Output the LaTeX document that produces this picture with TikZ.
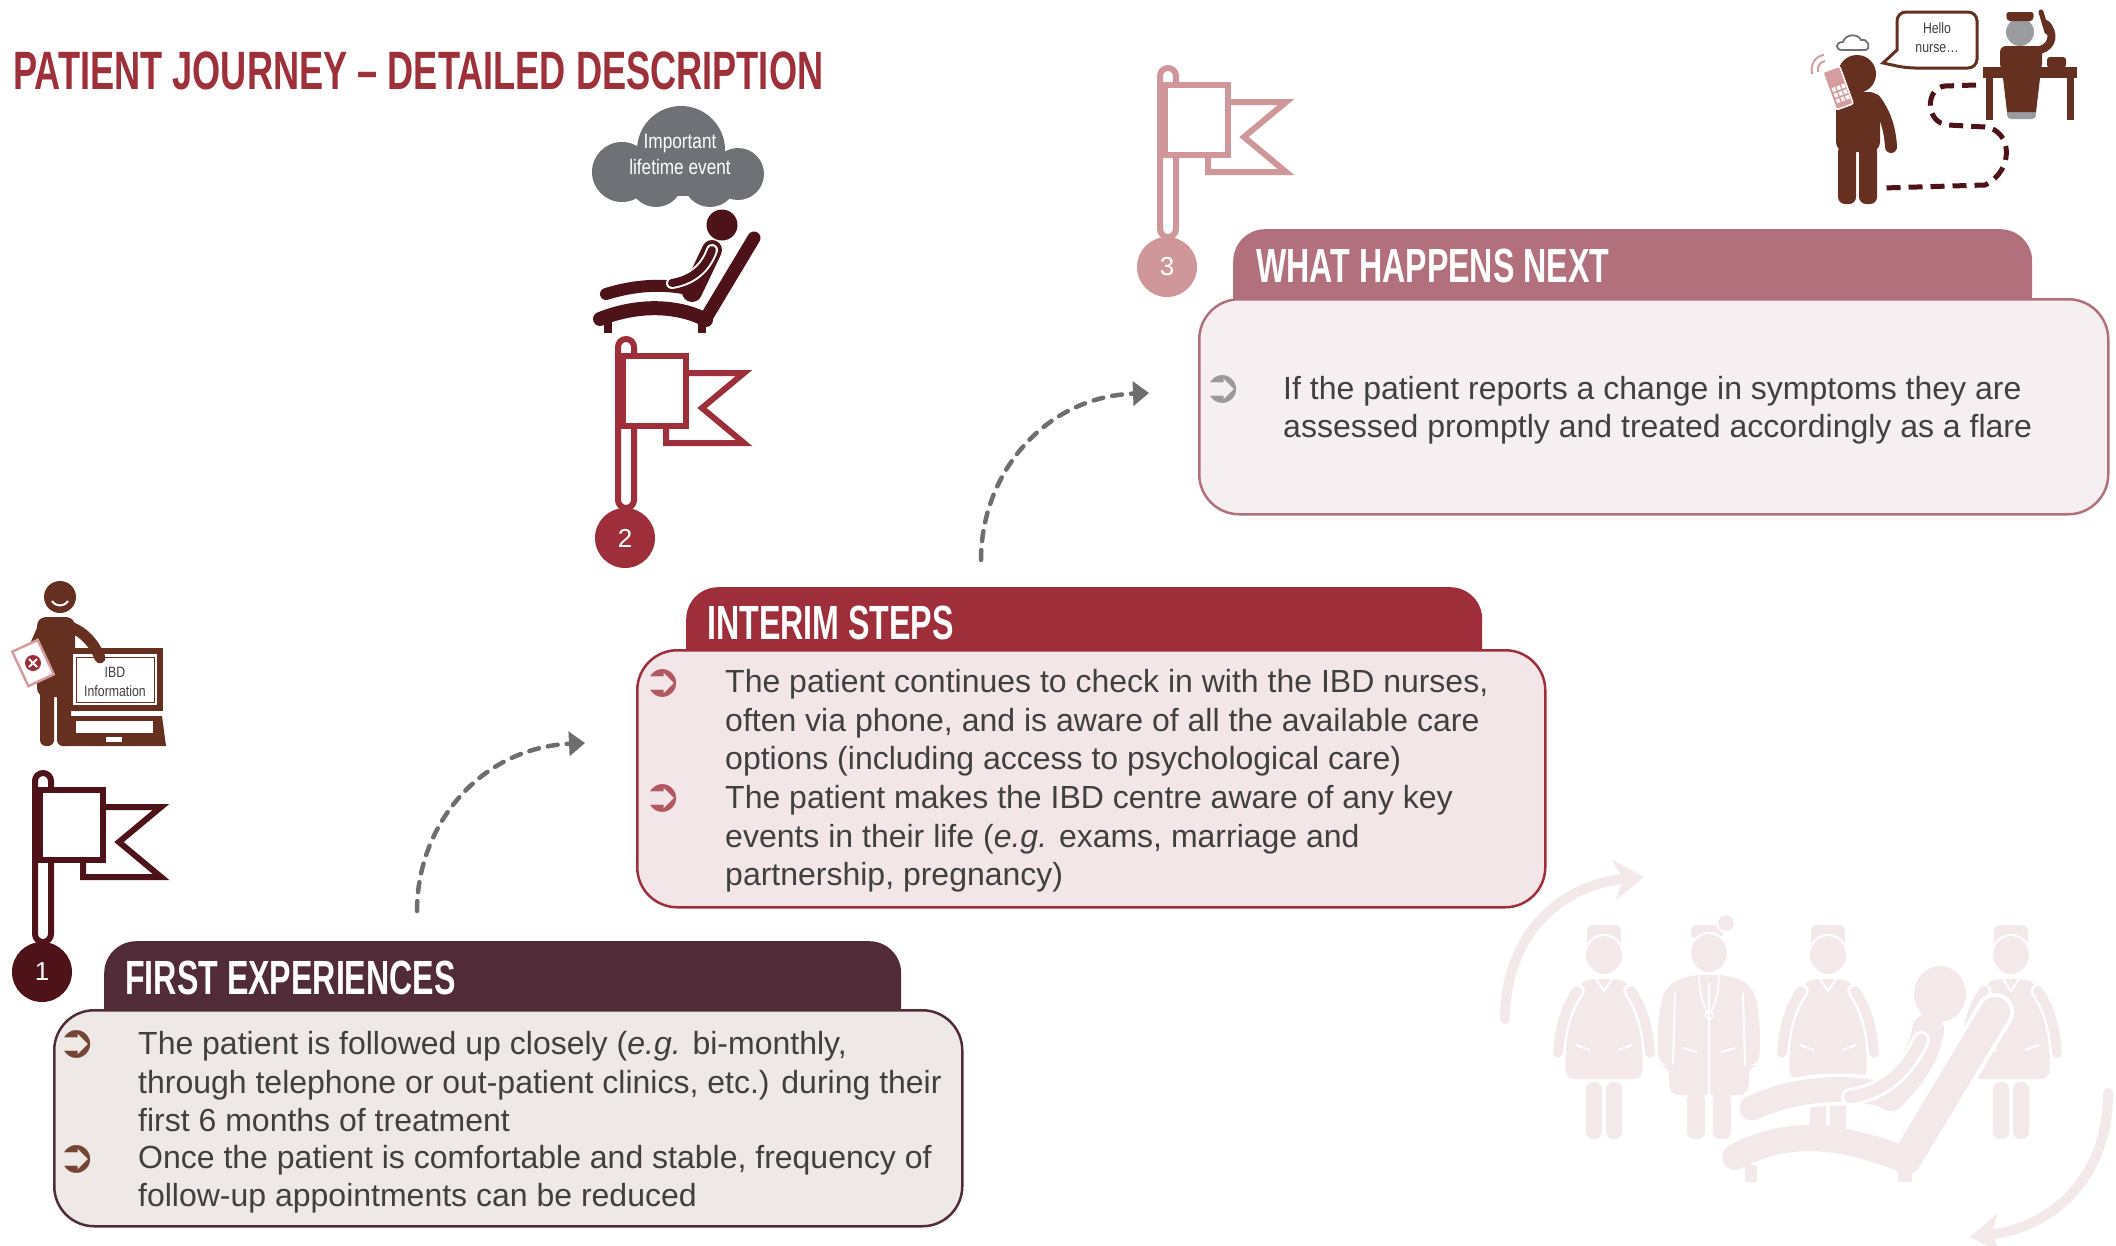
\documentclass[tikz,border=0pt]{standalone}
\usepackage{fontspec}
\setmainfont{Liberation Sans}
\newfontfamily\headfont[FakeStretch=0.67]{Liberation Sans}
\newfontfamily\narrowfont[FakeStretch=0.82]{Liberation Sans}
\newfontfamily\symfont{DejaVu Sans}
\usetikzlibrary{arrows.meta}

\definecolor{titlered}{HTML}{9E3039}
\definecolor{plum}{HTML}{522B39}
\definecolor{plumbg}{HTML}{EEE8E7}
\definecolor{wine}{HTML}{9E2F3A}
\definecolor{winebg}{HTML}{F3E6E9}
\definecolor{rose}{HTML}{B1707C}
\definecolor{rosebg}{HTML}{F5EFF1}
\definecolor{maroon}{HTML}{4E1319}
\definecolor{blush}{HTML}{D0979B}
\definecolor{umber}{HTML}{65301F}
\definecolor{ink}{HTML}{404040}
\definecolor{hopgrey}{HTML}{6E6E6E}
\definecolor{cloudgrey}{HTML}{707176}
\definecolor{ghost}{HTML}{F3E8EA}
\definecolor{phonepink}{HTML}{D69C9F}

\begin{document}
\begin{tikzpicture}
  [
    x=1pt, y=-1pt,
    tab/.style =
      {rounded corners=32pt, anchor=north west, minimum height=120pt, inner sep=0pt},
    card/.style =
      {draw, line width=2.5pt, rounded corners=40pt, anchor=north west, inner sep=0pt},
    heading/.style =
      {anchor=west, inner sep=0pt, text=white, font=\headfont\bfseries\fontsize{48}{50}\selectfont},
    body/.style =
      {anchor=west, inner sep=0pt, align=left, text=ink, font=\fontsize{32}{38.5}\selectfont},
    bullet/.style =
      {inner sep=0pt, font=\symfont\bfseries\fontsize{46}{46}\selectfont},
    num/.style =
      {circle, minimum size=60pt, inner sep=0pt, text=white, font=\fontsize{26}{26}\selectfont},
    hop/.style =
      {hopgrey, line width=4.5pt, dash pattern=on 10pt off 9pt, line cap=round,
       -{Triangle[length=16pt, width=24pt]}},
    turn/.style =
      {ghost, line width=10pt, line cap=round, -{Stealth[length=30pt, width=40pt, inset=9pt]}},
    flag/.pic = {
      \draw[line width=6pt, fill=white, rounded corners=8pt] (-7,-30) rectangle (9,-199);
      \draw[line width=6pt, fill=white] (61,-165) -- (119,-165) -- (77,-130) -- (119,-95)
        -- (41,-95) -- (41,-112);
      \draw[line width=6pt, fill=white] (-2,-182) rectangle (61,-112);
    },
    nurse/.pic = {
      \fill[rounded corners=6pt] (-17,-30) rectangle (17,-6);
      \filldraw[draw=white, line width=2pt] (0,0) ellipse [x radius=19, y radius=20];
      \fill[rounded corners=8pt] (-14,24) -- (14,24) -- (24,28) .. controls (36,45) and (40,80) .. (38,124)
        -- (-38,124) .. controls (-40,80) and (-36,45) .. (-24,28) -- cycle;
      \draw[white, line width=15pt, line cap=round] (-27,36) .. controls (-40,55) and (-44,75) .. (-46,98);
      \draw[white, line width=15pt, line cap=round] (27,36) .. controls (40,55) and (44,75) .. (46,98);
      \draw[line width=10pt, line cap=round] (-27,36) .. controls (-40,55) and (-44,75) .. (-46,98);
      \draw[line width=10pt, line cap=round] (27,36) .. controls (40,55) and (44,75) .. (46,98);
      \draw[white, line width=2pt] (-28,90) -- (-14,95) (14,95) -- (28,90) (-8,24) -- (0,36) -- (8,24);
      \fill[rounded corners=7pt] (-18,127) rectangle (-2,184);
      \fill[rounded corners=7pt] (2,127) rectangle (18,184);
    },
    doctor/.pic = {
      \fill[rounded corners=6pt] (-18,-28) rectangle (14,-14);
      \filldraw[draw=white, line width=2pt] (0,0) ellipse [x radius=19, y radius=20];
      \filldraw[draw=white, line width=2pt] (17,-30) circle [radius=9];
      \fill[rounded corners=10pt] (-18,22) -- (18,22) -- (40,30) .. controls (50,50) and (52,80) .. (50,112)
        -- (40,112) -- (40,142) -- (-40,142) -- (-40,112) -- (-50,112)
        .. controls (-52,80) and (-50,50) .. (-40,30) -- cycle;
      \draw[white, line width=2pt] (0,30) -- (0,142) (-34,40) -- (-36,112) (34,40) -- (36,112)
        (-26,95) -- (-12,99) (12,99) -- (26,95);
      \draw[white, line width=1.5pt] (-10,22) .. controls (-10,45) and (-4,55) .. (0,62)
        .. controls (4,55) and (10,45) .. (10,22) (0,62) circle [radius=4];
      \fill[rounded corners=7pt] (-22,140) rectangle (-4,186);
      \fill[rounded corners=7pt] (4,140) rectangle (22,186);
    }
  ]
  \useasboundingbox (0,0) rectangle (2116,1245);

  % care team in the background
  \coordinate (turn1s) at (1505,1019);
  \coordinate (turn1e) at (1644,877);
  \coordinate (turn2s) at (2108,1093);
  \coordinate (turn2e) at (1970,1237);
  \draw[turn] (turn1s) .. controls (1505,935) and (1560,885) .. (turn1e);
  \draw[turn] (turn2s) .. controls (2108,1180) and (2050,1228) .. (turn2e);
  \pic[ghost] at (1604,955) {nurse};
  \pic[ghost] at (1709,953) {doctor};
  \pic[ghost] at (1828,955) {nurse};
  \pic[ghost] at (2011,955) {nurse};
  \fill[ghost] (1940,994) ellipse [x radius=26, y radius=28];
  \draw[white, line width=38pt, line cap=round] (1995,1012) -- (1906,1160);
  \draw[ghost, line width=30pt, line cap=round] (1995,1012) -- (1906,1160);
  \draw[ghost, line width=26pt, line cap=round] (1735,1157) .. controls (1790,1128) and (1840,1135) .. (1906,1160);
  \fill[ghost] (1745,1165) rectangle (1757,1182);
  \fill[ghost] (1898,1165) rectangle (1912,1182);
  \draw[white, line width=32pt, line cap=round] (1752,1108) .. controls (1800,1086) and (1850,1086) .. (1893,1096);
  \draw[ghost, line width=25pt, line cap=round] (1752,1108) .. controls (1800,1086) and (1850,1086) .. (1893,1096);
  \draw[ghost, line width=32pt, line cap=round] (1890,1095) .. controls (1915,1070) and (1925,1050) .. (1928,1030);
  \draw[white, line width=18pt, line cap=round] (1921,1040) .. controls (1905,1075) and (1880,1093) .. (1850,1097);
  \draw[ghost, line width=12pt, line cap=round] (1921,1040) .. controls (1905,1075) and (1880,1093) .. (1850,1097);

  % title
  \node[anchor=west, inner sep=0pt, text=titlered, font=\headfont\bfseries\fontsize{54}{56}\selectfont]
    (title) at (13,70.5) {PATIENT JOURNEY – DETAILED DESCRIPTION};

  % steps
  \node[tab, fill=rose, minimum width=799pt] (tab3) at (1233,229) {};
  \node[card, draw=rose, fill=rosebg, minimum width=909pt, minimum height=215pt] (card3) at (1198,298) {};
  \node[heading] (head3) at (1256,266) {WHAT HAPPENS NEXT};
  \node[bullet, text=black!40] (b31) at (1223,389) {➲};
  \node[body] (next1) at (1283,410) {If the patient reports a change in symptoms they are\\
    assessed promptly and treated accordingly as a flare};

  \node[tab, fill=wine, minimum width=796pt] (tab2) at (686,587) {};
  \node[card, draw=wine, fill=winebg, minimum width=908pt, minimum height=257pt] (card2) at (636,649) {};
  \node[heading] (head2) at (707,623) {INTERIM STEPS};
  \node[bullet, text=wine!80] (b21) at (663,683) {➲};
  \node[bullet, text=wine!80] (b22) at (663,798) {➲};
  \node[body] (interim1) at (725,723) {The patient continues to check in with the IBD nurses,\\
    often via phone, and is aware of all the available care\\
    options (including access to psychological care)};
  \node[body] (interim2) at (725,839) {The patient makes the IBD centre aware of any key\\
    events in their life (\textit{e.g.} exams, marriage and\\
    partnership, pregnancy)};

  \node[tab, fill=plum, minimum width=797pt] (tab1) at (104,941) {};
  \node[card, draw=plum, fill=plumbg, minimum width=908pt, minimum height=216pt] (card1) at (53,1009) {};
  \node[heading] (head1) at (125,978) {FIRST EXPERIENCES};
  \node[bullet, text=umber!90] (b11) at (77,1044) {➲};
  \node[bullet, text=umber!90] (b12) at (77,1159) {➲};
  \node[body] (first1) at (138,1082) {The patient is followed up closely (\textit{e.g.} bi-monthly,\\
    through telephone or out-patient clinics, etc.) during their\\
    first 6 months of treatment};
  \node[body] (first2) at (138,1179) {Once the patient is comfortable and stable, frequency of\\
    follow-up appointments can be reduced};

  % dashed hops between the steps
  \coordinate (hop1s) at (417,911);
  \coordinate (hop1e) at (585,743);
  \coordinate (hop2s) at (981,560);
  \coordinate (hop2e) at (1149,393);
  \draw[hop] (hop1s) .. controls (417,825) and (480,748) .. (hop1e);
  \draw[hop] (hop2s) .. controls (981,474) and (1044,397) .. (hop2e);

  % flags and numbers
  \pic[maroon] at (42,972) {flag};
  \node[num, fill=maroon] (n1) at (42,972) {1};
  \pic[wine] at (625,538) {flag};
  \node[num, fill=wine] (n2) at (625,538) {2};
  \pic[blush] at (1167,267) {flag};
  \node[num, fill=blush] (n3) at (1167,267) {3};

  % cloud and reclining patient
  \fill[cloudgrey] (622,172) circle [radius=30] (681,150) circle [radius=44] (738,174) circle [radius=26]
    (656,180) circle [radius=27] (710,180) circle [radius=27];
  \fill[cloudgrey] (622,160) rectangle (738,196);
  \node[align=center, text=white, font=\narrowfont\fontsize{21}{26}\selectfont] (event) at (680,154)
    {Important\\lifetime event};
  \fill[maroon] (722,225) circle [radius=15.5];
  \draw[maroon, line width=13pt, line cap=round] (754,238) -- (706,318);
  \draw[maroon, line width=14pt, line cap=round] (600,319) .. controls (640,303) and (680,306) .. (706,320);
  \fill[maroon] (604,320) rectangle (612,333);
  \fill[maroon] (698,320) rectangle (706,333);
  \draw[white, line width=16pt, line cap=round] (606,294) .. controls (635,285) and (665,283) .. (692,290);
  \draw[maroon, line width=12pt, line cap=round] (606,294) .. controls (635,285) and (665,283) .. (692,290);
  \draw[maroon, line width=20pt, line cap=round] (692,292) -- (712,250);
  \draw[white, line width=12pt, line cap=round] (712,250) .. controls (705,270) and (690,280) .. (672,283);
  \draw[maroon, line width=8pt, line cap=round] (712,250) .. controls (705,270) and (690,280) .. (672,283);

  % patient reading the IBD information
  \fill[umber] (60,597) circle [radius=16];
  \draw[white, line width=2pt] (52,601) .. controls (56,607) and (64,607) .. (68,601);
  \fill[umber, rounded corners=9pt] (37,617) rectangle (75,697);
  \fill[umber, rounded corners=6pt] (40,690) rectangle (54,746);
  \fill[umber, rounded corners=6pt] (57,690) rectangle (71,746);
  \draw[umber, line width=11pt, line cap=round] (43,628) -- (31,655);
  \draw[phonepink, line width=2.5pt, fill=white, rotate around={25:(33,663)}] (19,644) rectangle (47,682);
  \fill[wine] (33,663) circle [radius=8];
  \draw[white, line width=2pt] (29,659) -- (37,667) (29,667) -- (37,659);
  \fill[umber] (67,648) rectangle (163,711);
  \fill[white] (73,654) rectangle (157,705);
  \draw[umber, line width=1pt] (76,657) rectangle (154,702);
  \fill[umber] (66,716) -- (162,716) -- (166,746) -- (62,746) -- cycle;
  \fill[white] (76,721) rectangle (153,733);
  \fill[white] (106,737) rectangle (122,742);
  \draw[umber, line width=11pt, line cap=round] (70,627) .. controls (85,632) and (95,645) .. (100,658);
  \node[align=center, text=ink, font=\narrowfont\fontsize{15}{19}\selectfont] (info) at (115,682)
    {IBD\\Information};

  % phone call to the nurse
  \draw[maroon, line width=5pt, dash pattern=on 14pt off 8pt] (1976,85) -- (1945,86)
    .. controls (1925,88) and (1925,123) .. (1948,125) -- (1985,127)
    .. controls (2012,130) and (2015,170) .. (1985,185) -- (1883,188);
  \fill[umber] (1857,74) circle [radius=19];
  \fill[umber, rounded corners=10pt] (1836,92) rectangle (1880,152);
  \fill[umber, rounded corners=7pt] (1838,145) rectangle (1856,204);
  \fill[umber, rounded corners=7pt] (1859,145) rectangle (1877,204);
  \draw[umber, line width=12pt, line cap=round] (1875,100) .. controls (1886,115) and (1890,130) .. (1891,147);
  \draw[umber, line width=12pt, line cap=round] (1842,100) .. controls (1832,95) and (1834,80) .. (1844,70);
  \begin{scope}[rotate around={20:(1838,88)}]
    \filldraw[fill=phonepink, draw=white, line width=1.5pt, rounded corners=2pt] (1829,68) rectangle (1847,108);
    \foreach \i in {0,1,2}
      \foreach \j in {0,1,2}
        \fill[white] (1832+5*\i,86+6*\j) rectangle +(3.5,4);
  \end{scope}
  \draw[phonepink, line width=2pt] (1818,72) .. controls (1817,66) and (1820,62) .. (1825,61)
    (1812,74) .. controls (1810,63) and (1816,56) .. (1824,55);
  \draw[cloudgrey, line width=1.8pt] (1842,50) .. controls (1835,50) and (1835,42) .. (1843,42)
    .. controls (1845,34) and (1858,33) .. (1861,40) .. controls (1868,38) and (1872,49) .. (1865,50) -- cycle;
  \draw[umber, line width=3pt, fill=white] (1897,50) [rounded corners=9pt] -- (1897,12) -- (1977,12)
    -- (1977,68) -- (1906,68) [sharp corners] -- (1883,63) -- cycle;
  \node[align=center, text=ink, font=\narrowfont\fontsize{15}{19}\selectfont] (hello) at (1937,38)
    {Hello\\nurse…};
  \fill[cloudgrey!70] (2020,32) circle [radius=14];
  \fill[umber, rounded corners=3pt] (2006,12) -- (2034,12) -- (2033,21) -- (2007,21) -- cycle;
  \fill[umber, rounded corners=6pt] (2000,46) rectangle (2042,70);
  \draw[umber, line width=8pt, line cap=round] (2040,50) .. controls (2054,46) and (2054,32) .. (2046,24);
  \draw[umber, line width=5pt, line cap=round] (2041,12) -- (2047,32);
  \fill[umber, rounded corners=3pt] (2047,57) rectangle (2066,68);
  \fill[cloudgrey!70, rounded corners=4pt] (2007,106) rectangle (2036,119);
  \fill[umber] (2003,78) -- (2040,78) -- (2036,112) -- (2007,112) -- cycle;
  \fill[umber] (1983,67) rectangle (2077,78);
  \fill[umber] (1986,78) rectangle (1993,120);
  \fill[umber] (2067,78) rectangle (2074,120);
\end{tikzpicture}
\end{document}
